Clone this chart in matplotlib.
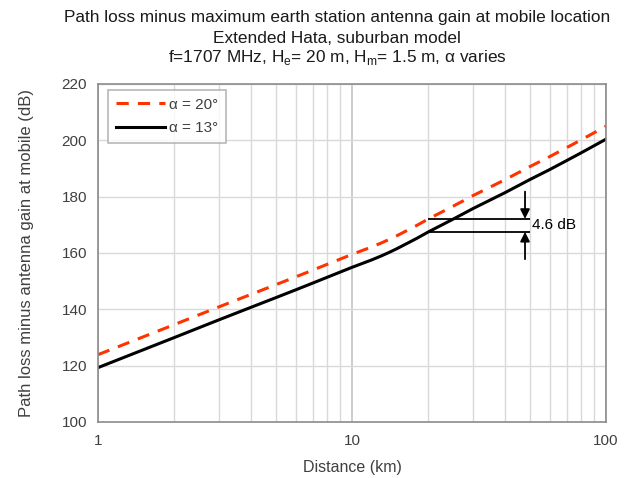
import numpy as np
import matplotlib
matplotlib.use("Agg")
import matplotlib.pyplot as plt
from matplotlib.ticker import FixedLocator, NullFormatter

plt.rcParams['font.family'] = ['Liberation Sans', 'DejaVu Sans']

# distance (km) and path loss minus antenna gain (dB)
distance_km = [1, 2, 3, 4, 5, 6, 7, 8, 10, 12, 13, 14, 15, 16, 18, 20, 25, 30, 40, 50, 60, 70, 80, 100]
loss_alpha13 = [119.3, 130.0, 136.3, 140.7, 144.1, 146.9, 149.3, 151.4, 154.9, 157.6, 158.9,
                160.2, 161.5, 162.8, 165.2, 167.5, 172.0, 175.8, 181.4, 186.0, 189.6, 192.8,
                195.6, 200.4]
loss_alpha20 = [123.9, 134.6, 140.9, 145.3, 148.7, 151.5, 153.9, 156.0, 159.5, 162.2, 163.5,
                164.8, 166.1, 167.4, 169.8, 172.1, 176.6, 180.4, 186.0, 190.6, 194.2, 197.4,
                200.2, 205.0]

# difference marker at 20 km
gap_upper = 172.1
gap_lower = 167.5
gap_label = "4.6 dB"

x_ticks = [1, 10, 100]
y_ticks = [100, 120, 140, 160, 180, 200, 220]

title_lines = ['Path loss minus maximum earth station antenna gain at mobile location',
               'Extended Hata, suburban model',
               'f=1707 MHz, H$_\\mathregular{e}$= 20 m, H$_\\mathregular{m}$= 1.5 m, α varies']

fig = plt.figure(figsize=(6.34, 4.78), dpi=100)
ax = fig.add_axes([0.1546, 0.1172, 0.8012, 0.7071])

ax.set_xscale('log')
ax.set_xlim(1, 100)
ax.set_ylim(100, 220)

# gridlines: light minor decades, slightly darker majors
minor = [m * 10 ** e for e in range(0, 2) for m in range(2, 10)]
ax.xaxis.set_minor_locator(FixedLocator(minor))
ax.xaxis.set_minor_formatter(NullFormatter())
ax.set_xticks(x_ticks)
ax.set_xticklabels([str(t) for t in x_ticks])
ax.set_yticks(y_ticks)
ax.grid(True, which='minor', axis='x', color='#d9d9d9', linewidth=1)
ax.grid(True, which='major', axis='x', color='#c4c4c4', linewidth=1.2)
ax.grid(True, which='major', axis='y', color='#d9d9d9', linewidth=1)
ax.set_axisbelow(True)

for s in ax.spines.values():
    s.set_color('#8c8c8c')
    s.set_linewidth(1.2)

ax.tick_params(which='both', length=0, labelsize=11, labelcolor='#404040')
ax.tick_params(axis='x', pad=9)
ax.tick_params(axis='y', pad=8)

ax.plot(distance_km, loss_alpha20, color='#ff3300', linewidth=2.2,
        dashes=(4, 3), label='α = 20°')
ax.plot(distance_km, loss_alpha13, color='black', linewidth=2.2, label='α = 13°')

# 4.6 dB marker
ax.hlines([gap_upper, gap_lower], 20, 50, color='black', linewidth=1.3)
ax.annotate('', xy=(48, gap_upper), xytext=(48, 181.8),
            arrowprops=dict(arrowstyle='-|>', color='black', lw=1.3, mutation_scale=14,
                            shrinkA=0, shrinkB=0))
ax.annotate('', xy=(48, gap_lower), xytext=(48, 157.8),
            arrowprops=dict(arrowstyle='-|>', color='black', lw=1.3, mutation_scale=14,
                            shrinkA=0, shrinkB=0))
ax.text(51, (gap_upper + gap_lower) / 2, gap_label, fontsize=11,
        va='center', ha='left')

leg = ax.legend(loc='upper left', bbox_to_anchor=(0.02, 0.982), borderaxespad=0,
                fontsize=11, frameon=True, fancybox=False, handlelength=3.2,
                borderpad=0.5, labelspacing=0.6, handletextpad=0.3)
leg.get_frame().set_edgecolor('#a6a6a6')
leg.get_frame().set_linewidth(1.2)
for t in leg.get_texts():
    t.set_color('#404040')

ax.set_xlabel('Distance (km)', fontsize=11.5, color='#404040', labelpad=8)
ax.set_ylabel('Path loss minus antenna gain at mobile (dB)', fontsize=12,
              color='#404040', labelpad=20)

# three title lines placed one by one
for line, y in zip(title_lines, [0.9644, 0.9205, 0.8787]):
    fig.text(0.5315, y, line, fontsize=12.4, color='#1a1a1a', ha='center', va='center')

fig.savefig('out.png', dpi=100)
